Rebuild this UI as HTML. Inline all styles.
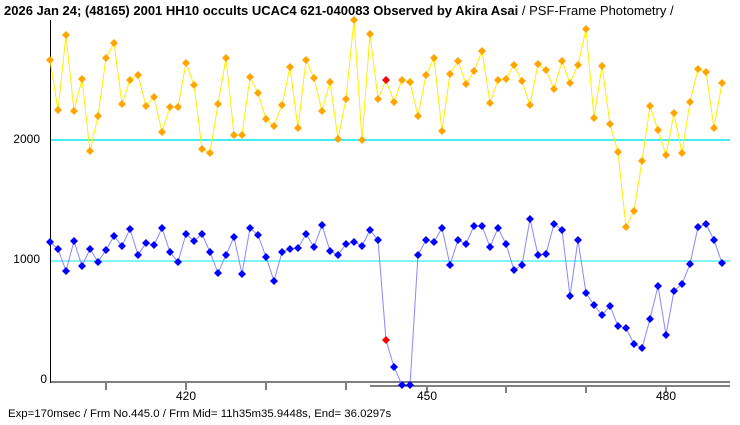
<!DOCTYPE html>
<html><head><style>
html,body{margin:0;padding:0;background:#fff;}
svg{display:block;}
</style></head><body>
<svg width="740" height="425" xmlns="http://www.w3.org/2000/svg" font-family="Liberation Sans, sans-serif">
<rect width="740" height="425" fill="#fff"/>
<text x="4" y="15" font-size="13" font-weight="bold" fill="#000">2026 Jan 24; (48165) 2001 HH10 occults UCAC4 621-040083 Observed by Akira Asai <tspan font-weight="normal">/ PSF-Frame Photometry /</tspan></text>
<line x1="50" y1="140" x2="730" y2="140" stroke="#00e8f0" stroke-width="1.5"/>
<line x1="50" y1="261" x2="730" y2="261" stroke="#00e8f0" stroke-width="1"/>
<line x1="50.5" y1="20" x2="50.5" y2="383" stroke="#000" stroke-width="1"/>
<line x1="50" y1="382" x2="730" y2="382" stroke="#000" stroke-width="1"/>
<line x1="370" y1="386" x2="730" y2="386" stroke="#000" stroke-width="1"/>
<g stroke="#000" stroke-width="1">
<line x1="106" y1="383" x2="106" y2="390"/><line x1="186" y1="383" x2="186" y2="390"/>
<line x1="266" y1="383" x2="266" y2="390"/><line x1="346" y1="383" x2="346" y2="390"/>
<line x1="427" y1="387" x2="427" y2="393"/><line x1="506" y1="387" x2="506" y2="393"/>
<line x1="586" y1="387" x2="586" y2="393"/><line x1="666" y1="387" x2="666" y2="393"/>
</g>
<g font-size="12" fill="#000">
<text x="186" y="400" text-anchor="middle">420</text>
<text x="427" y="400" text-anchor="middle">450</text>
<text x="666" y="400" text-anchor="middle">480</text>
<text x="40" y="143" text-anchor="end">2000</text>
<text x="40" y="263" text-anchor="end">1000</text>
<text x="47" y="383" text-anchor="end">0</text>
<text x="8" y="417" font-size="11.4">Exp=170msec / Frm No.445.0 / Frm Mid= 11h35m35.9448s,  End= 36.0297s</text>
</g>
<g id="plots"></g>
<script>
var Y=[60,110,35,111,79,151,116,58,43,104,80,75,106,97,132,107,107,63,85,149,153,104,58,135,135,77,93,119,126,105,67,128,60,78,111,82,139,99,20,140,34,99,80,102,80,82,116,75,58,131,74,61,84,71,51,103,80,79,65,81,105,64,70,89,61,83,65,29,118,66,124,152,227,211,161,106,130,155,113,153,102,69,72,128,83];
var B=[242,249,271,241,266,249,262,250,236,246,229,255,243,245,228,252,262,234,241,234,252,273,255,237,274,228,235,257,281,252,249,248,234,247,225,251,255,244,242,246,230,240,340,367,385,385,255,240,242,228,265,240,244,226,226,247,228,244,270,265,219,255,254,224,230,296,240,293,305,315,306,326,328,344,348,319,286,335,291,284,264,227,224,240,263];
var ns="http://www.w3.org/2000/svg",g=document.getElementById('plots');
function draw(arr,lc,pc,red){
 var pts=arr.map(function(y,i){return (50+i*8.0)+','+y;}).join(' ');
 var pl=document.createElementNS(ns,'polyline');
 pl.setAttribute('points',pts);pl.setAttribute('fill','none');pl.setAttribute('stroke',lc);pl.setAttribute('stroke-width','1');
 g.appendChild(pl);
 arr.forEach(function(y,i){
  var x=50+i*8.0,p=document.createElementNS(ns,'polygon');
  p.setAttribute('points',(x)+','+(y-4)+' '+(x+4)+','+y+' '+x+','+(y+4)+' '+(x-4)+','+y);
  p.setAttribute('fill',i==red?'#f00':pc);g.appendChild(p);
 });
}
draw(Y,'#ffee00','#ffa500',42);
draw(B,'#8888ff','#0000ff',42);
</script>
</svg>
</body></html>
